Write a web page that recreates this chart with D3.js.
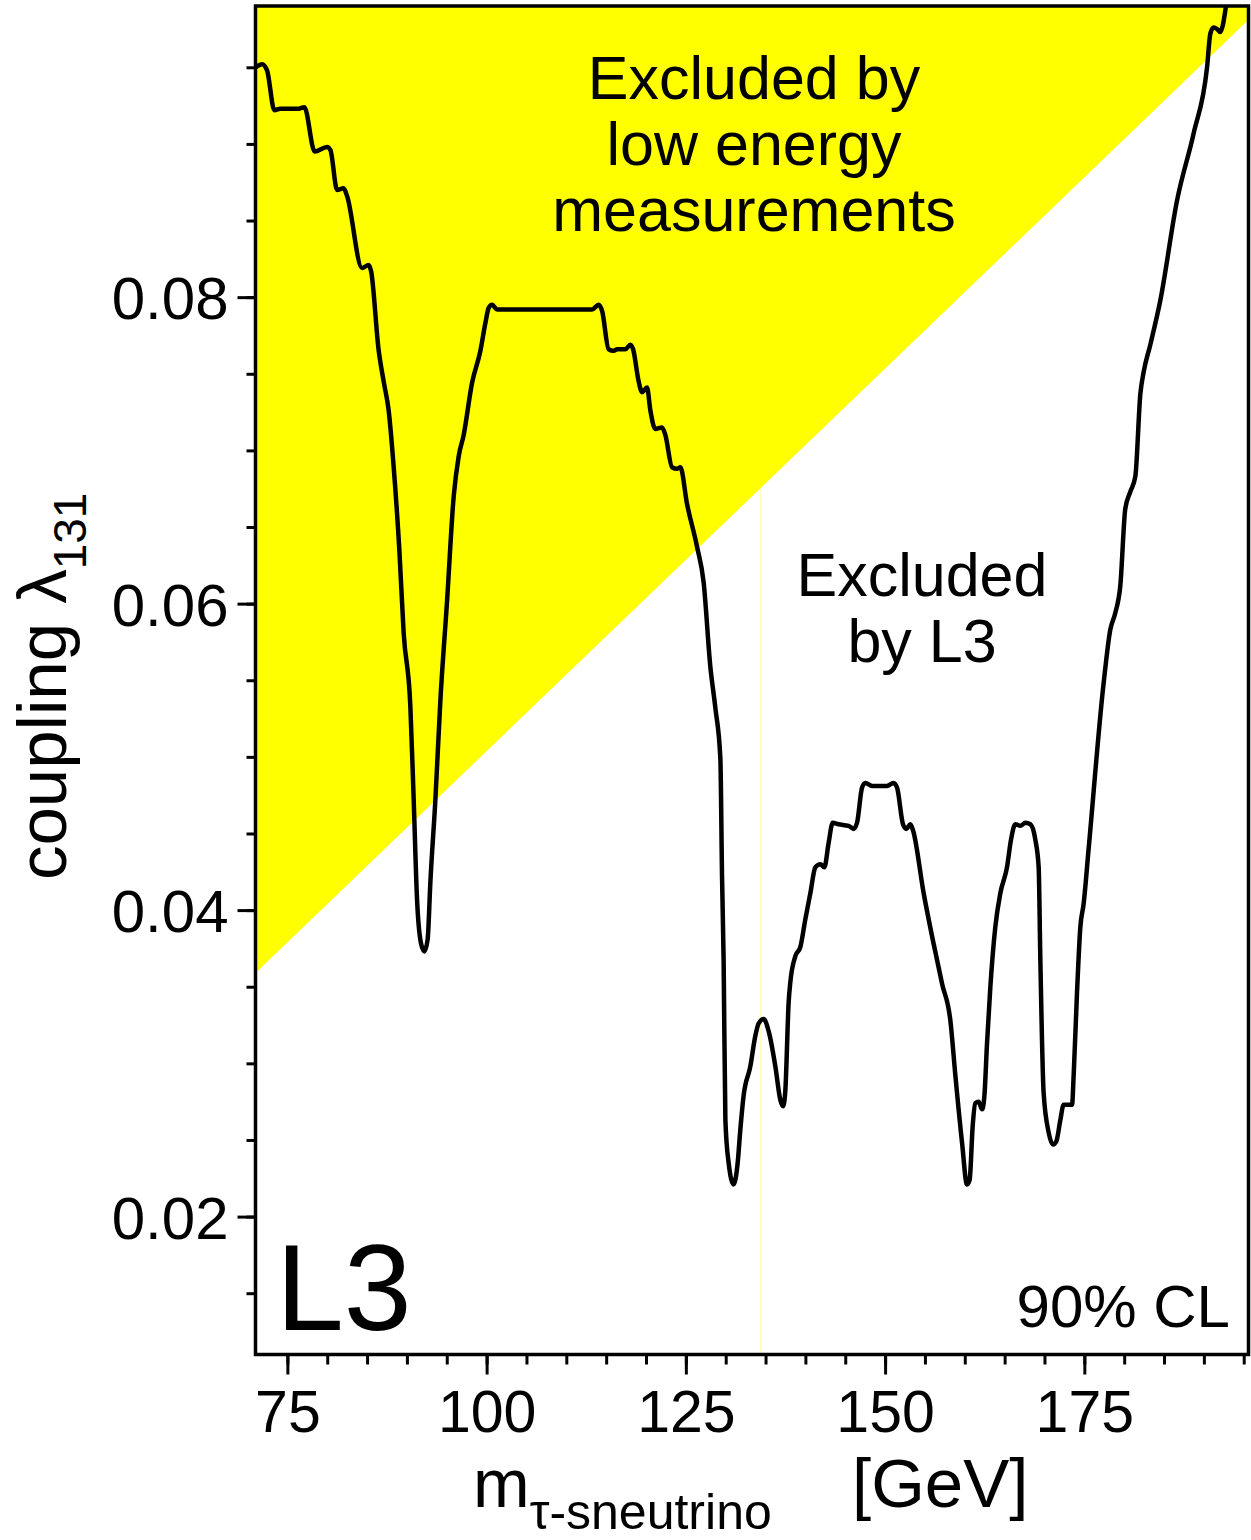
<!DOCTYPE html>
<html>
<head>
<meta charset="utf-8">
<script src="https://cdn.jsdelivr.net/npm/d3@7/dist/d3.min.js"></script>
<style>
  html, body { margin: 0; padding: 0; background: #fff; }
  svg { display: block; }
  text { font-family: "Liberation Sans", Arial, Helvetica, sans-serif; fill: #000; }
</style>
</head>
<body>
<svg id="chart" width="1251" height="1540"></svg>
<script>
// ---------------- DATA ----------------
const massGeV = [
  71.0, 71.83, 72.45, 73.37, 74.12, 76.42, 77.13, 78.43, 79.98, 80.40,
  81.24, 82.06, 82.49, 84.37, 85.20, 85.50, 86.46, 87.08, 87.71, 88.34,
  89.05, 89.59, 90.43, 90.85, 91.27, 91.78, 92.19, 92.60, 92.94, 93.57,
  94.20, 95.04, 95.87, 96.49, 97.12, 98.17, 99.22, 99.84, 100.26, 100.68,
  101.31, 113.23, 114.06, 114.49, 115.31, 115.94, 116.37, 117.41, 118.04, 118.38,
  119.08, 119.50, 120.13, 120.55, 121.17, 122.01, 122.43, 123.27, 123.90, 124.31,
  125.15, 126.41, 127.23, 128.07, 128.70, 129.33, 129.54, 129.74, 129.96, 130.37,
  131.00, 131.50, 131.84, 132.25, 133.09, 133.72, 134.13, 134.76, 135.39, 136.23,
  136.86, 137.20, 137.48, 137.90, 138.11, 138.74, 139.37, 139.99, 140.62, 141.25,
  141.88, 142.38, 142.92, 143.42, 144.17, 145.43, 146.05, 146.48, 147.11, 147.52,
  148.36, 150.24, 151.07, 151.50, 152.25, 152.67, 153.17, 153.51, 154.84, 156.09,
  157.15, 158.19, 158.82, 159.66, 160.28, 160.61, 160.99, 161.32, 161.74, 162.17,
  162.45, 162.79, 163.21, 163.83, 164.46, 165.30, 165.80, 166.34, 166.97, 167.60,
  168.23, 168.85, 169.27, 169.48, 169.89, 170.52, 171.07, 171.48, 171.99, 172.40,
  173.46, 173.66, 174.08, 174.50, 174.91, 175.54, 177.42, 178.26, 178.89, 179.52,
  180.14, 180.77, 181.40, 182.03, 182.44, 183.28, 184.54, 186.63, 188.72, 190.40,
  190.81, 191.23, 191.65, 192.06, 192.40, 192.69, 192.90
];
const couplingLimit = [
  0.0950, 0.0952, 0.0948, 0.0922, 0.0923, 0.0923, 0.0924, 0.0895, 0.0898, 0.0896,
  0.0870, 0.0871, 0.0866, 0.0819, 0.0821, 0.0817, 0.0765, 0.0745, 0.0726, 0.0689,
  0.0635, 0.0581, 0.0533, 0.0472, 0.0407, 0.0378, 0.0373, 0.0381, 0.0418, 0.0472,
  0.0537, 0.0602, 0.0670, 0.0696, 0.0710, 0.0744, 0.0765, 0.0783, 0.0793, 0.0795,
  0.0792, 0.0792, 0.0795, 0.0791, 0.0766, 0.0765, 0.0766, 0.0766, 0.0769, 0.0766,
  0.0745, 0.0738, 0.0741, 0.0726, 0.0714, 0.0715, 0.0710, 0.0689, 0.0688, 0.0689,
  0.0665, 0.0637, 0.0614, 0.0559, 0.0532, 0.0499, 0.0422, 0.0367, 0.0263, 0.0235,
  0.0221, 0.0235, 0.0257, 0.0279, 0.0298, 0.0318, 0.0326, 0.0329, 0.0321, 0.0298,
  0.0276, 0.0272, 0.0282, 0.0340, 0.0353, 0.0370, 0.0376, 0.0394, 0.0411, 0.0428,
  0.0430, 0.0428, 0.0444, 0.0457, 0.0456, 0.0455, 0.0453, 0.0457, 0.0480, 0.0483,
  0.0481, 0.0481, 0.0483, 0.0480, 0.0456, 0.0453, 0.0456, 0.0452, 0.0411, 0.0378,
  0.0352, 0.0328, 0.0292, 0.0248, 0.0221, 0.0224, 0.0259, 0.0274, 0.0275, 0.0270,
  0.0278, 0.0313, 0.0350, 0.0389, 0.0411, 0.0428, 0.0446, 0.0456, 0.0455, 0.0457,
  0.0456, 0.0446, 0.0428, 0.0368, 0.0281, 0.0255, 0.0247, 0.0249, 0.0263, 0.0273,
  0.0273, 0.0292, 0.0346, 0.0389, 0.0404, 0.0440, 0.0548, 0.0583, 0.0594, 0.0612,
  0.0662, 0.0673, 0.0683, 0.0737, 0.0751, 0.0769, 0.0798, 0.0863, 0.0907, 0.0950,
  0.0972, 0.0976, 0.0975, 0.0973, 0.0978, 0.0987, 0.0995
];
// low-energy exclusion boundary (straight line)
const lowEnergyMass = [71, 196];
const lowEnergyCoupling = [0.0359, 0.0983];
const artifactMass = 134.4;  // thin vertical yellow line in the original

const xDomain = [71, 195.6];
const yDomain = [0.011, 0.099];
const xMajorTicks = [75, 100, 125, 150, 175];
const xTickLabels = ["75", "100", "125", "150", "175"];
const xMinorTicks = d3.range(75, 196, 5);
const yMajorTicks = [0.02, 0.04, 0.06, 0.08];
const yTickLabels = ["0.02", "0.04", "0.06", "0.08"];
const yMinorTicks = d3.range(15, 96, 5).map(v => v / 1000);

const annoLow = ["Excluded by", "low energy", "measurements"];
const annoL3 = ["Excluded", "by L3"];

// ---------------- LAYOUT ----------------
const svg = d3.select("#chart");
const pLeft = 255.5, pRight = 1248.5, pTop = 6, pBottom = 1354.5;

const x = d3.scaleLinear().domain(xDomain).range([pLeft, pRight]);
const y = d3.scaleLinear().domain(yDomain).range([pBottom, pTop]);

svg.append("defs").append("clipPath").attr("id", "plotclip")
  .append("rect").attr("x", pLeft).attr("y", pTop)
  .attr("width", pRight - pLeft).attr("height", pBottom - pTop);

const plot = svg.append("g").attr("clip-path", "url(#plotclip)");

// yellow low-energy excluded region
const poly = [
  [lowEnergyMass[0], lowEnergyCoupling[0]],
  [lowEnergyMass[1], lowEnergyCoupling[1]],
  [lowEnergyMass[1], yDomain[1] + 0.01],
  [lowEnergyMass[0], yDomain[1] + 0.01]
];
plot.append("path")
  .attr("d", d3.line().x(d => x(d[0])).y(d => y(d[1]))(poly) + "Z")
  .attr("fill", "#ffff00");

// thin artifact line
const slope = (lowEnergyCoupling[1] - lowEnergyCoupling[0]) / (lowEnergyMass[1] - lowEnergyMass[0]);
const artY = lowEnergyCoupling[0] + slope * (artifactMass - lowEnergyMass[0]);
plot.append("line")
  .attr("x1", x(artifactMass)).attr("x2", x(artifactMass))
  .attr("y1", y(artY)).attr("y2", pBottom)
  .attr("stroke", "#ffff66").attr("stroke-width", 1).attr("opacity", 0.6);

// limit curve
const pts = massGeV.map((m, i) => [m, couplingLimit[i]]);
plot.append("path")
  .datum(pts)
  .attr("d", d3.line().x(d => x(d[0])).y(d => y(d[1])).curve(d3.curveMonotoneX))
  .attr("fill", "none")
  .attr("stroke", "#000")
  .attr("stroke-width", 4.5)
  .attr("stroke-linejoin", "round")
  .attr("stroke-linecap", "round");

// ---------------- AXES ----------------
const tickStyle = g => {
  g.select(".domain").remove();
  g.selectAll(".tick line").attr("stroke", "#000").attr("stroke-width", 3);
};

// x minor
svg.append("g").attr("transform", `translate(0,${pBottom})`)
  .call(d3.axisBottom(x).tickValues(xMinorTicks).tickSize(10).tickFormat(""))
  .call(tickStyle);
// x major
const gx = svg.append("g").attr("transform", `translate(0,${pBottom})`)
  .call(d3.axisBottom(x).tickValues(xMajorTicks).tickSize(20).tickPadding(16)
    .tickFormat((d, i) => xTickLabels[i]))
  .call(tickStyle);
gx.selectAll(".tick text")
  .attr("font-size", 59).attr("font-family", "Liberation Sans, Arial, sans-serif")
  .attr("fill", "#000").attr("dy", "0.71em");

// y minor
svg.append("g").attr("transform", `translate(${pLeft},0)`)
  .call(d3.axisLeft(y).tickValues(yMinorTicks).tickSize(9).tickFormat(""))
  .call(tickStyle);
// y major
const gy = svg.append("g").attr("transform", `translate(${pLeft},0)`)
  .call(d3.axisLeft(y).tickValues(yMajorTicks).tickSize(18).tickPadding(9)
    .tickFormat((d, i) => yTickLabels[i]))
  .call(tickStyle);
gy.selectAll(".tick text")
  .attr("font-size", 60).attr("font-family", "Liberation Sans, Arial, sans-serif")
  .attr("fill", "#000").attr("dy", "0.36em");

// frame
svg.append("rect")
  .attr("x", pLeft).attr("y", pTop)
  .attr("width", pRight - pLeft).attr("height", pBottom - pTop)
  .attr("fill", "none").attr("stroke", "#000").attr("stroke-width", 3.5);

// ---------------- TEXT ----------------
const tLow = svg.append("text").attr("text-anchor", "middle").attr("font-size", 61);
annoLow.forEach((s, i) => {
  tLow.append("tspan").attr("x", 754).attr("y", 99 + i * 66).text(s);
});
const tL3 = svg.append("text").attr("text-anchor", "middle").attr("font-size", 61);
annoL3.forEach((s, i) => {
  tL3.append("tspan").attr("x", 922).attr("y", 596 + i * 66).text(s);
});

svg.append("text").attr("x", 276).attr("y", 1330)
  .attr("font-size", 122).text("L3");
svg.append("text").attr("x", 1230).attr("y", 1327)
  .attr("text-anchor", "end").attr("font-size", 60).text("90% CL");

// x title
const xt = svg.append("text").attr("x", 473).attr("y", 1507).attr("font-size", 68);
xt.append("tspan").text("m");
xt.append("tspan").attr("font-size", 50).attr("dy", 22).text("τ-sneutrino");
svg.append("text").attr("x", 852).attr("y", 1507).attr("font-size", 69).text("[GeV]");

// y title
const yt = svg.append("text")
  .attr("transform", "translate(66,880) rotate(-90)")
  .attr("font-size", 69);
yt.append("tspan").text("coupling ");
yt.append("tspan").text("λ");
yt.append("tspan").attr("font-size", 46).attr("dy", 20).text("131");
</script>
</body>
</html>
